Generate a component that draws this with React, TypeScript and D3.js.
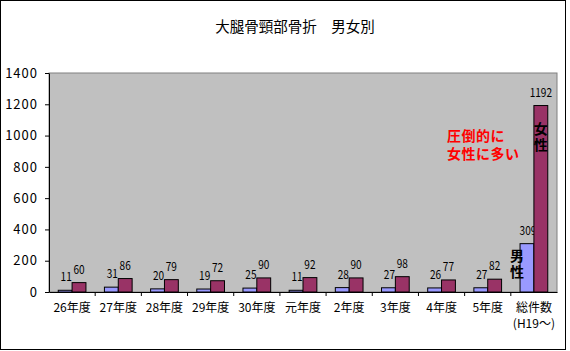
import { useRef, useEffect } from 'react';
import * as d3 from 'd3';

// 大腿骨頸部骨折 男女別
const categories = ['26年度', '27年度', '28年度', '29年度', '30年度', '元年度', '2年度', '3年度', '4年度', '5年度', '総件数'];
const maleValues = [11, 31, 20, 19, 25, 11, 28, 27, 26, 27, 309];
const femaleValues = [60, 86, 79, 72, 90, 92, 90, 98, 77, 82, 1192];
const yTicks = [0, 200, 400, 600, 800, 1000, 1200, 1400];
const noteLines = ['圧倒的に', '女性に多い'];

const W = 570;
const H = 351;
const FONT = '"Noto Sans CJK JP", "DejaVu Sans", sans-serif';

export default function App() {
  const svgRef = useRef<SVGSVGElement | null>(null);

  useEffect(() => {
    const svg = d3.select(svgRef.current);
    svg.selectAll('*').remove();

    const margin = { top: 73, right: 13, bottom: 59, left: 49 };
    const innerWidth = W - margin.left - margin.right;
    const innerHeight = H - margin.top - margin.bottom;

    // outer frame
    svg.append('rect')
      .attr('x', 0.5).attr('y', 0.5)
      .attr('width', 565).attr('height', 349)
      .attr('fill', '#fff')
      .attr('stroke', '#000');

    svg.append('text')
      .attr('x', 295).attr('y', 32)
      .attr('text-anchor', 'middle')
      .attr('font-family', FONT)
      .attr('font-size', 14.5)
      .text('大腿骨頸部骨折　男女別');

    const g = svg.append('g')
      .attr('transform', 'translate(' + margin.left + ',' + margin.top + ')');

    const x = d3.scaleBand()
      .domain(categories)
      .range([0, innerWidth]);

    const x1 = d3.scaleBand()
      .domain(['male', 'female'])
      .range([x.bandwidth() * 0.2, x.bandwidth() * 0.8]);

    const y = d3.scaleLinear()
      .domain([0, 1400])
      .range([innerHeight, 0]);

    // plot area
    g.append('rect')
      .attr('width', innerWidth)
      .attr('height', innerHeight)
      .attr('fill', '#C0C0C0')
      .attr('stroke', '#808080');

    // y axis
    const yAxis = g.append('g')
      .call(d3.axisLeft(y).tickValues(yTicks).tickSize(4).tickSizeOuter(0).tickFormat(d3.format('d')));
    yAxis.select('.domain').attr('stroke', '#000');
    yAxis.selectAll('text')
      .attr('font-family', FONT)
      .attr('font-size', 13)
      .attr('letter-spacing', 1)
      .attr('x', -11)
      .attr('fill', '#000');

    // x axis
    const xAxis = g.append('g')
      .attr('transform', 'translate(0,' + innerHeight + ')')
      .call(d3.axisBottom(x).tickSize(0).tickSizeOuter(0));
    xAxis.select('.domain').attr('stroke', '#000');
    xAxis.selectAll('text')
      .attr('font-family', FONT)
      .attr('font-size', 12)
      .attr('dy', '1.45em')
      .attr('fill', '#000');
    xAxis.selectAll('.tick')
      .filter(function (d) { return d === '総件数'; })
      .append('text')
      .attr('y', 0)
      .attr('dy', '3.0em')
      .attr('text-anchor', 'middle')
      .attr('font-family', FONT)
      .attr('font-size', 12)
      .attr('fill', '#000')
      .text('(H19〜)');

    // category separator ticks
    g.append('g')
      .selectAll('line')
      .data(d3.range(1, categories.length))
      .join('line')
      .attr('x1', function (i) { return i * x.step(); })
      .attr('x2', function (i) { return i * x.step(); })
      .attr('y1', innerHeight)
      .attr('y2', innerHeight + 4)
      .attr('stroke', '#000');

    const rows = categories.map(function (c, i) {
      return { cat: c, male: maleValues[i], female: femaleValues[i] };
    });

    const groups = g.selectAll('.grp')
      .data(rows)
      .join('g')
      .attr('class', 'grp')
      .attr('transform', function (d) { return 'translate(' + x(d.cat) + ',0)'; });

    const series = [
      { key: 'male', color: '#9999FF' },
      { key: 'female', color: '#993366' },
    ];

    series.forEach(function (s) {
      groups.append('rect')
        .attr('x', x1(s.key) as number)
        .attr('width', x1.bandwidth())
        .attr('y', function (d: any) { return y(d[s.key]); })
        .attr('height', function (d: any) { return innerHeight - y(d[s.key]); })
        .attr('fill', s.color)
        .attr('stroke', '#000')
        .attr('stroke-width', 1);

      // narrow half-width digits like the original
      groups.append('text')
        .attr('x', (x1(s.key) as number) + x1.bandwidth() / 2 + (s.key === 'male' ? 1 : 0))
        .attr('y', function (d: any) { return y(d[s.key]) - 9; })
        .attr('text-anchor', 'middle')
        .attr('font-family', FONT)
        .attr('font-size', 12)
        .attr('textLength', function (d: any) { return String(d[s.key]).length * 5.6; })
        .attr('lengthAdjust', 'spacingAndGlyphs')
        .attr('fill', '#000')
        .text(function (d: any) { return d[s.key]; });
    });

    // annotations
    const last = categories[categories.length - 1];
    const mx = (x(last) as number) + (x1('male') as number) - 3;
    const fx = (x(last) as number) + (x1('female') as number) + x1.bandwidth() / 2;

    const vText = function (cx: number, top: number, t: string) {
      g.append('text')
        .attr('x', cx)
        .attr('y', top)
        .attr('writing-mode', 'vertical-rl')
        .attr('font-family', FONT)
        .attr('font-size', 14)
        .attr('font-weight', 'bold')
        .attr('letter-spacing', 2)
        .attr('fill', '#000')
        .text(t);
    };
    vText(mx, y(280), '男性');
    vText(fx, y(1090), '女性');

    noteLines.forEach(function (t, i) {
      g.append('text')
        .attr('x', 447 - margin.left)
        .attr('y', 141 - margin.top + i * 18)
        .attr('font-family', FONT)
        .attr('font-size', 14)
        .attr('font-weight', 'bold')
        .attr('letter-spacing', 0.5)
        .attr('fill', '#FF0000')
        .text(t);
    });
  }, []);

  return (
    <div style={{ position: 'absolute', left: 0, top: 0 }}>
      <svg ref={svgRef} width={W} height={H} style={{ display: 'block' }} />
    </div>
  );
}
